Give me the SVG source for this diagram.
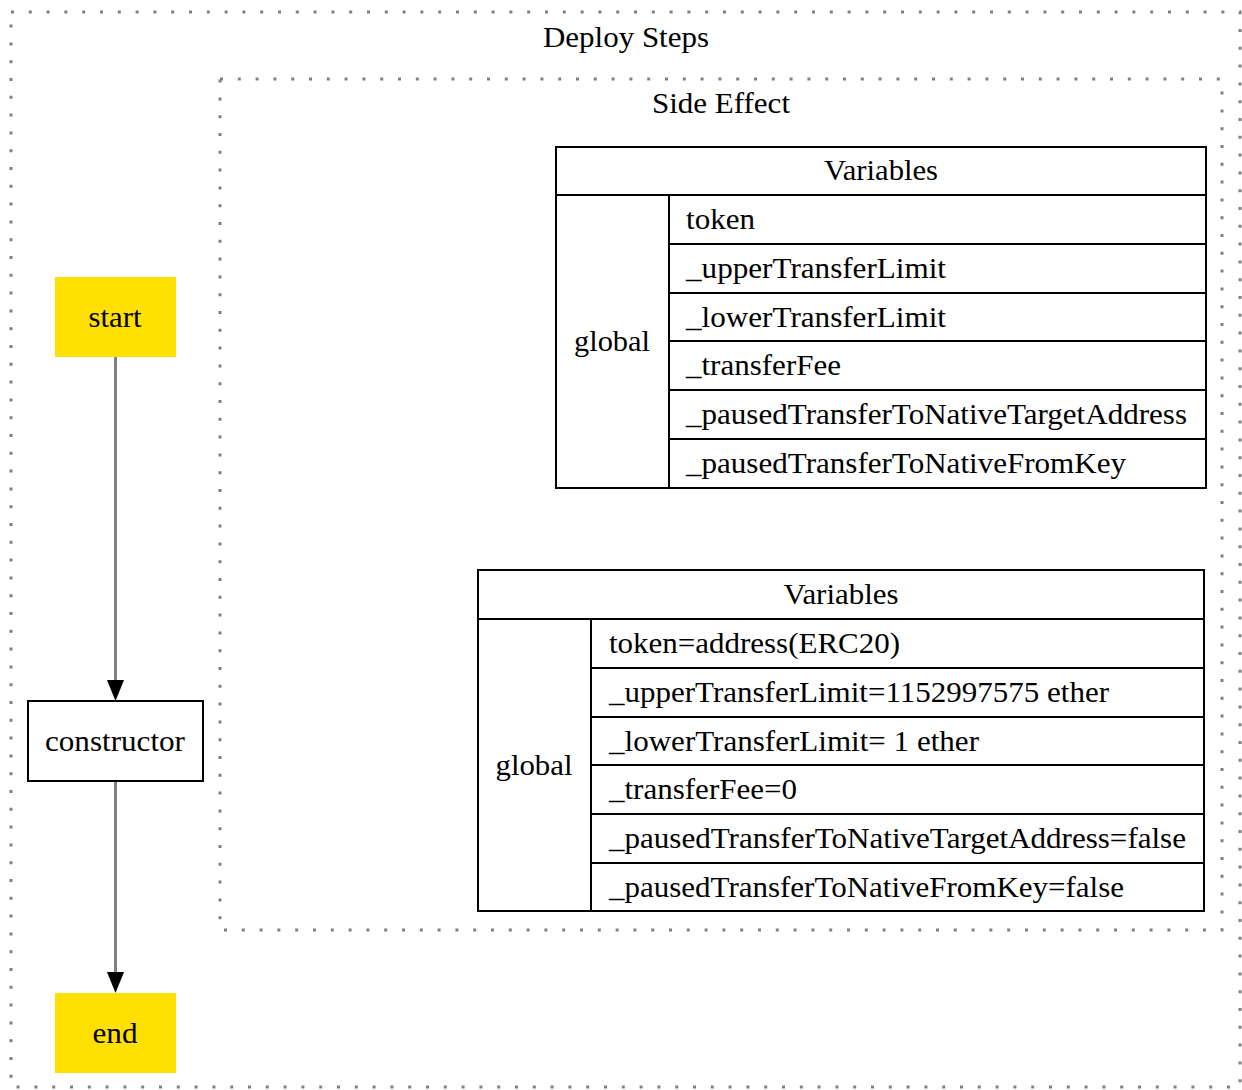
<svg xmlns="http://www.w3.org/2000/svg" width="1242" height="1090" viewBox="0 0 1242 1090">
<style>
text{font-family:"Liberation Serif","Times New Roman",serif;font-size:30px;fill:#000}
.c{text-anchor:middle}
.cl{fill:none;stroke:#808080;stroke-width:3;stroke-dasharray:3 14.8}
.t{fill:none;stroke:#000;stroke-width:2}
.y{fill:#ffe000}
.e{stroke:#808080;stroke-width:3;fill:none}
</style>
<rect width="1242" height="1090" fill="#fff"/>
<g id="cluster-deploy">
<rect class="cl" x="11" y="12" width="1229" height="1075"/>
<text class="c" x="626" y="47" textLength="166" lengthAdjust="spacingAndGlyphs">Deploy Steps</text>
</g>
<g id="cluster-side">
<rect class="cl" x="220" y="79" width="1002" height="851"/>
<text class="c" x="721" y="113" textLength="138" lengthAdjust="spacingAndGlyphs">Side Effect</text>
</g>
<g id="table1">
<rect class="t" x="556" y="147" width="650" height="341"/>
<line class="t" x1="556" y1="195" x2="1206" y2="195"/>
<line class="t" x1="669" y1="195" x2="669" y2="488"/>
<line class="t" x1="669" y1="244" x2="1206" y2="244"/>
<line class="t" x1="669" y1="293" x2="1206" y2="293"/>
<line class="t" x1="669" y1="341" x2="1206" y2="341"/>
<line class="t" x1="669" y1="390" x2="1206" y2="390"/>
<line class="t" x1="669" y1="439" x2="1206" y2="439"/>
<text class="c" x="881" y="180" textLength="114" lengthAdjust="spacingAndGlyphs">Variables</text>
<text class="c" x="612" y="351" textLength="76" lengthAdjust="spacingAndGlyphs">global</text>
<text x="686" y="229" textLength="69" lengthAdjust="spacingAndGlyphs">token</text>
<text x="686" y="278" textLength="260" lengthAdjust="spacingAndGlyphs">_upperTransferLimit</text>
<text x="686" y="327" textLength="260" lengthAdjust="spacingAndGlyphs">_lowerTransferLimit</text>
<text x="686" y="375" textLength="155" lengthAdjust="spacingAndGlyphs">_transferFee</text>
<text x="686" y="424" textLength="501" lengthAdjust="spacingAndGlyphs">_pausedTransferToNativeTargetAddress</text>
<text x="686" y="473" textLength="440" lengthAdjust="spacingAndGlyphs">_pausedTransferToNativeFromKey</text>
</g>
<g id="table2">
<rect class="t" x="478" y="570" width="726" height="341"/>
<line class="t" x1="478" y1="619" x2="1204" y2="619"/>
<line class="t" x1="591" y1="619" x2="591" y2="911"/>
<line class="t" x1="591" y1="668" x2="1204" y2="668"/>
<line class="t" x1="591" y1="717" x2="1204" y2="717"/>
<line class="t" x1="591" y1="765" x2="1204" y2="765"/>
<line class="t" x1="591" y1="814" x2="1204" y2="814"/>
<line class="t" x1="591" y1="863" x2="1204" y2="863"/>
<text class="c" x="841" y="604" textLength="115" lengthAdjust="spacingAndGlyphs">Variables</text>
<text class="c" x="534" y="775" textLength="77" lengthAdjust="spacingAndGlyphs">global</text>
<text x="609" y="653" textLength="291" lengthAdjust="spacingAndGlyphs">token=address(ERC20)</text>
<text x="609" y="702" textLength="500" lengthAdjust="spacingAndGlyphs">_upperTransferLimit=1152997575 ether</text>
<text x="609" y="751" textLength="370" lengthAdjust="spacingAndGlyphs">_lowerTransferLimit= 1 ether</text>
<text x="609" y="799" textLength="188" lengthAdjust="spacingAndGlyphs">_transferFee=0</text>
<text x="609" y="848" textLength="577" lengthAdjust="spacingAndGlyphs">_pausedTransferToNativeTargetAddress=false</text>
<text x="609" y="897" textLength="515" lengthAdjust="spacingAndGlyphs">_pausedTransferToNativeFromKey=false</text>
</g>
<g id="connectors">
<line class="e" x1="115.5" y1="357" x2="115.5" y2="682"/>
<polygon points="107,680 124,680 115.5,701" fill="#000"/>
<line class="e" x1="115.5" y1="781" x2="115.5" y2="974"/>
<polygon points="107,972 124,972 115.5,993" fill="#000"/>
</g>
<g id="start">
<rect class="y" x="55" y="277" width="121" height="80"/>
<text class="c" x="115" y="327" textLength="53" lengthAdjust="spacingAndGlyphs">start</text>
</g>
<g id="constructor">
<rect class="t" x="28" y="701" width="175" height="80" fill="#fff"/>
<text class="c" x="115" y="751" textLength="140" lengthAdjust="spacingAndGlyphs">constructor</text>
</g>
<g id="end">
<rect class="y" x="55" y="993" width="121" height="80"/>
<text class="c" x="115" y="1043" textLength="45" lengthAdjust="spacingAndGlyphs">end</text>
</g>
</svg>
